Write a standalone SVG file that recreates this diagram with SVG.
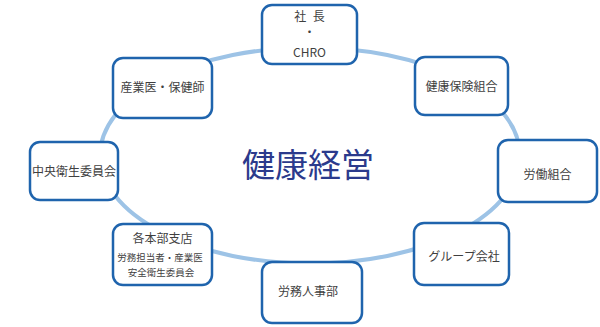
<svg xmlns="http://www.w3.org/2000/svg" width="600" height="327" viewBox="0 0 600 327">
<style>
.box{fill:#ffffff;stroke:#1f64ad;stroke-width:2.5}
.t{font-family:"Noto Sans CJK JP","Liberation Sans",sans-serif;font-size:12px;fill:#3f3f3f;text-anchor:middle}
.s{font-size:9.5px}
.c{font-family:"Noto Sans CJK JP",sans-serif;font-size:33px;fill:#2b3a8c;text-anchor:middle}
</style>
<rect width="600" height="327" fill="#ffffff"/>
<g id="connectors">
<ellipse cx="310" cy="155.5" rx="210" ry="108" fill="none" stroke="#9dc3e6" stroke-width="4"/>
</g>
<text class="c" x="308" y="177">健康経営</text>
<g id="n-ceo">
<rect class="box" x="262" y="5" width="95" height="59" rx="10"/>
<text class="t" x="310.500" y="21" font-size="11" letter-spacing="2">社 長</text>
<text class="t" x="309.500" y="37" font-size="9">・</text>
<text class="t" x="309.500" y="57">CHRO</text>
</g>
<g id="n-doctor">
<rect class="box" x="113" y="58" width="99" height="60" rx="10"/>
<text class="t" x="162.500" y="92">産業医・保健師</text>
</g>
<g id="n-kenpo">
<rect class="box" x="415" y="57" width="93" height="58" rx="10"/>
<text class="t" x="461.500" y="91">健康保険組合</text>
</g>
<g id="n-chuo">
<rect class="box" x="30" y="142" width="88" height="58" rx="10"/>
<text class="t" x="74" y="176">中央衛生委員会</text>
</g>
<g id="n-union">
<rect class="box" x="498" y="140" width="99" height="62" rx="10"/>
<text class="t" x="547.500" y="179">労働組合</text>
</g>
<g id="n-branch">
<rect class="box" x="113" y="224" width="99" height="61" rx="10"/>
<text class="t" x="162.500" y="243">各本部支店</text>
<text class="t s" x="160" y="261">労務担当者・産業医</text>
<text class="t s" x="161" y="276">安全衛生委員会</text>
</g>
<g id="n-group">
<rect class="box" x="414" y="223" width="95" height="62" rx="10"/>
<text class="t" x="464" y="261">グループ会社</text>
</g>
<g id="n-hr">
<rect class="box" x="262" y="262" width="100" height="61" rx="10"/>
<text class="t" x="308" y="296">労務人事部</text>
</g>
</svg>
